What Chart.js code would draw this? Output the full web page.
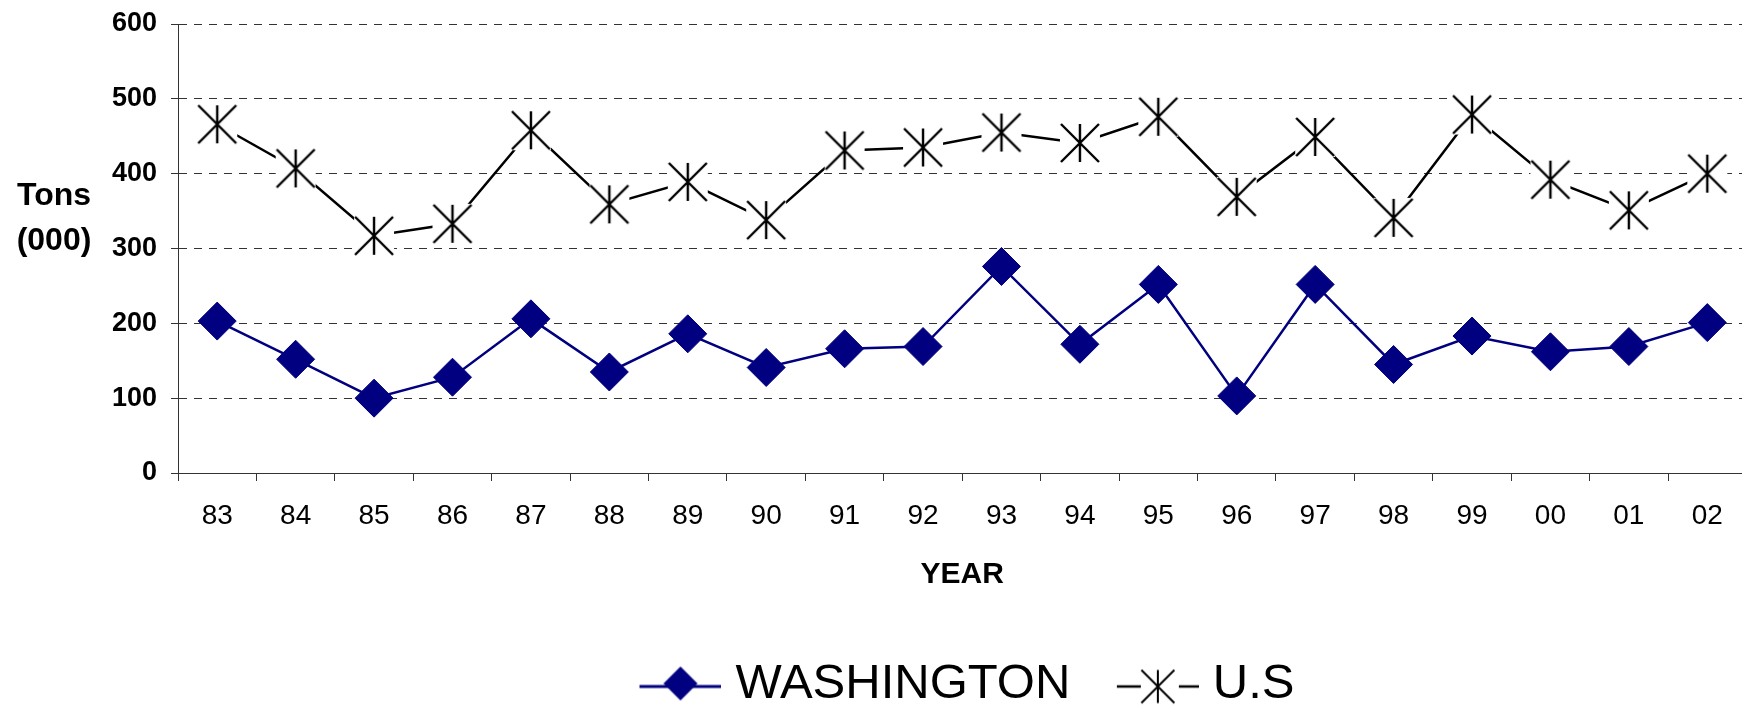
<!DOCTYPE html>
<html>
<head>
<meta charset="utf-8">
<script src="https://cdn.jsdelivr.net/npm/chart.js@4.4.1/dist/chart.umd.min.js"></script>
<style>
  html, body { margin: 0; padding: 0; background: #fff; overflow: hidden; }
  /* wider than the window: the plot runs off the right edge like the original */
  #wrap { position: relative; width: 1768px; height: 705px; }
</style>
</head>
<body>
<div id="wrap"><canvas id="chart"></canvas></div>
<script>
// tonnage by crop year, thousands of tons
const years = ['83', '84', '85', '86', '87', '88', '89', '90', '91', '92',
               '93', '94', '95', '96', '97', '98', '99', '00', '01', '02'];
const washington = [203, 152, 100, 128, 206, 135, 186, 141, 166, 169,
                    276, 172, 252, 103, 252, 145, 183, 162, 169, 201];
const us = [466, 407, 317, 333, 458, 359, 389, 338, 431, 435,
            455, 441, 476, 369, 449, 341, 479, 392, 351, 400];

const FONT = "'Liberation Sans', Arial, sans-serif";
const NAVY = '#000080';

// excel style star: an X plus a vertical bar, on a white box
function starMarker(half, box, lw) {
  const size = Math.ceil(box * 2 + 2);
  const c = document.createElement('canvas');
  c.width = size;
  c.height = size;
  const g = c.getContext('2d');
  const m = size / 2;
  g.fillStyle = '#fff';
  g.fillRect(m - box, m - box, box * 2, box * 2);
  g.strokeStyle = '#000';
  g.lineWidth = lw;
  g.beginPath();
  g.moveTo(m - half, m - half); g.lineTo(m + half, m + half);
  g.moveTo(m + half, m - half); g.lineTo(m - half, m + half);
  g.moveTo(m, m - half); g.lineTo(m, m + half);
  g.stroke();
  return c;
}

// legend swatches: line with the marker on it (left part of the image is blank
// so the swatch sits closer to its text)
function legendSwatch(kind) {
  const c = document.createElement('canvas');
  c.width = 102;
  c.height = 40;
  const g = c.getContext('2d');
  const x0 = 20;
  const cy = 22;
  const mx = x0 + 41;
  if (kind === 'wa') {
    g.strokeStyle = NAVY;
    g.lineWidth = 3;
    g.beginPath(); g.moveTo(x0, cy); g.lineTo(x0 + 82, cy); g.stroke();
    g.fillStyle = NAVY;
    g.beginPath();
    g.moveTo(mx, cy - 20); g.lineTo(mx + 17, cy - 3); g.lineTo(mx, cy + 14); g.lineTo(mx - 17, cy - 3);
    g.closePath();
    g.fill();
  } else {
    g.strokeStyle = '#000';
    g.lineWidth = 2.5;
    g.beginPath();
    g.moveTo(x0, cy); g.lineTo(x0 + 24, cy);
    g.moveTo(x0 + 62, cy); g.lineTo(x0 + 82, cy);
    g.stroke();
    const h = 16.5;
    g.lineWidth = 2;
    g.beginPath();
    g.moveTo(mx - h, cy - h); g.lineTo(mx + h, cy + h);
    g.moveTo(mx + h, cy - h); g.lineTo(mx - h, cy + h);
    g.moveTo(mx, cy - h); g.lineTo(mx, cy + h);
    g.stroke();
  }
  return c;
}

const swatches = [legendSwatch('wa'), legendSwatch('us')];

// horizontal two line y title
const yTitle = {
  id: 'yTitle',
  afterDraw(chart) {
    const { ctx, chartArea } = chart;
    const x = chartArea.left - 124;
    const mid = (chartArea.top + chartArea.bottom) / 2;
    ctx.save();
    ctx.font = 'bold 32px ' + FONT;
    ctx.fillStyle = '#000';
    ctx.textAlign = 'center';
    ctx.textBaseline = 'middle';
    ctx.fillText('Tons', x, mid - 52);
    ctx.fillText('(000)', x, mid - 7);
    ctx.restore();
  }
};

new Chart(document.getElementById('chart'), {
  type: 'line',
  data: {
    labels: years,
    datasets: [
      {
        label: 'WASHINGTON',
        data: washington,
        borderColor: NAVY,
        backgroundColor: NAVY,
        borderWidth: 2.5,
        pointStyle: 'rectRot',
        pointRadius: 19,
        pointBackgroundColor: NAVY,
        pointBorderColor: NAVY,
        pointBorderWidth: 1,
        tension: 0,
      },
      {
        label: 'U.S',
        data: us,
        borderColor: '#000',
        backgroundColor: '#000',
        borderWidth: 2.5,
        pointStyle: starMarker(19, 20, 2.4),
        pointRadius: 19,
        tension: 0,
      },
    ],
  },
  options: {
    responsive: true,
    maintainAspectRatio: false,
    devicePixelRatio: 1,
    animation: false,
    layout: { padding: { top: 24, right: 0, bottom: -14, left: 0 } },
    plugins: {
      tooltip: { enabled: false },
      legend: {
        position: 'bottom',
        fullSize: false,
        labels: {
          usePointStyle: true,
          pointStyleWidth: 81,
          padding: 37,
          color: '#000',
          font: { family: FONT, size: 49 },
          generateLabels(chart) {
            const items = Chart.defaults.plugins.legend.labels.generateLabels(chart);
            items.forEach((it, i) => { it.pointStyle = swatches[i]; it.lineWidth = 0; });
            return items;
          },
        },
      },
    },
    scales: {
      x: {
        offset: true,
        grid: { offset: true, drawOnChartArea: false, drawTicks: true, tickLength: 8, color: '#333', tickColor: '#333' },
        border: { color: '#333', width: 1 },
        ticks: { color: '#000', font: { family: FONT, size: 28 }, padding: 18, maxRotation: 0, autoSkip: false },
        title: {
          display: true,
          text: 'YEAR',
          color: '#000',
          font: { family: FONT, size: 30, weight: 'bold' },
          padding: { top: 4, bottom: 30 },
        },
        afterFit(s) { s.height = 150; s.paddingLeft = 0; s.paddingRight = 0; },
      },
      y: {
        min: 0,
        max: 600,
        ticks: { stepSize: 100, color: '#000', font: { family: FONT, size: 27, weight: 'bold' }, padding: 14 },
        grid: { color: '#333', tickLength: 7, tickColor: '#333' },
        border: { color: '#333', dash: [8, 7] },
        afterFit(s) { s.width = 178; s.paddingTop = 0; s.paddingBottom = 0; },
      },
    },
  },
  plugins: [yTitle],
});
</script>
</body>
</html>
